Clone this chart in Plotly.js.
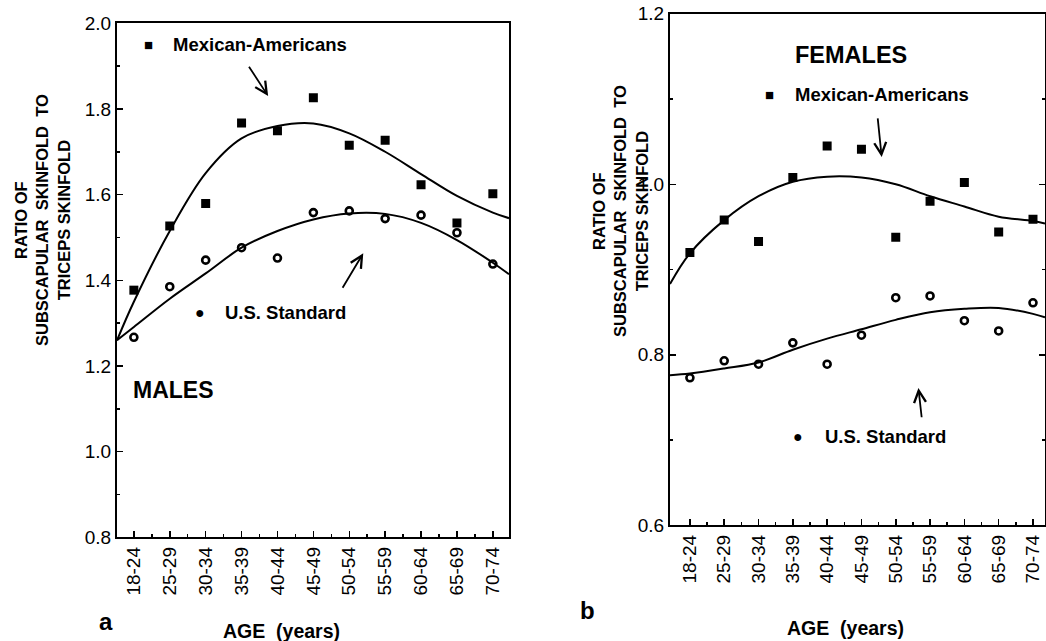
<!DOCTYPE html>
<html><head><meta charset="utf-8">
<script src="https://cdn.plot.ly/plotly-3.0.1.min.js"></script>
<style>html,body{margin:0;padding:0;background:#fff}</style>
</head><body>
<div id="chart" style="width:1046px;height:641px"></div>
<script>
// ---- data ----
const ageGroups = ['18-24','25-29','30-34','35-39','40-44','45-49','50-54','55-59','60-64','65-69','70-74'];

// panel a: males
const maleMexican = [1.377, 1.527, 1.579, 1.767, 1.749, 1.826, 1.715, 1.727, 1.623, 1.534, 1.602];
const maleUS      = [1.267, 1.385, 1.447, 1.476, 1.452, 1.558, 1.562, 1.544, 1.552, 1.511, 1.438];
// fitted curves at category positions
const maleCurveX         = [-0.47, 0, 1, 2, 3, 4, 5, 6, 7, 8, 9, 10, 10.45];
const maleMexicanCurve   = [1.26, 1.35, 1.515, 1.650, 1.731, 1.760, 1.766, 1.743, 1.700, 1.648, 1.597, 1.558, 1.545];
const maleUSCurve        = [1.26, 1.291, 1.357, 1.416, 1.476, 1.515, 1.542, 1.556, 1.555, 1.534, 1.494, 1.441, 1.414];

// panel b: females
const femaleMexican = [0.920, 0.958, 0.933, 1.008, 1.045, 1.041, 0.938, 0.980, 1.002, 0.944, 0.959];
const femaleUS      = [0.773, 0.793, 0.789, 0.814, 0.789, 0.823, 0.867, 0.869, 0.840, 0.828, 0.861];
const femaleCurveX       = [-0.58, 0, 1, 2, 3, 4, 5, 6, 7, 8, 9, 10, 10.35];
const femaleMexicanCurve = [0.883, 0.919, 0.958, 0.986, 1.003, 1.009, 1.008, 1.000, 0.986, 0.974, 0.962, 0.957, 0.954];
const femaleUSCurve      = [0.776, 0.778, 0.784, 0.791, 0.806, 0.819, 0.830, 0.841, 0.850, 0.854, 0.855, 0.848, 0.844];

// ---- drawing ----
const idx = ageGroups.map((_, i) => i);
const FONT = 'Liberation Sans, Arial, Helvetica, sans-serif';
const W = 1046, H = 641;
const px = v => v / W;
const py = v => (H - v) / H;

function sq(x, y, xa, ya) {
  return {x, y, xaxis: xa, yaxis: ya, type: 'scatter', mode: 'markers',
    marker: {symbol: 'square', size: 9, color: '#000'}, hoverinfo: 'skip', showlegend: false};
}
function dm(x, y, xa, ya) {
  return {x, y, xaxis: xa, yaxis: ya, type: 'scatter', mode: 'markers',
    marker: {symbol: 'circle-open', size: 7, color: '#000', line: {width: 2.6, color: '#000'}}, hoverinfo: 'skip', showlegend: false};
}
function crv(x, y, xa, ya) {
  return {x, y, xaxis: xa, yaxis: ya, type: 'scatter', mode: 'lines',
    line: {shape: 'spline', smoothing: 1, color: '#000', width: 2}, hoverinfo: 'skip', showlegend: false};
}

const traces = [
  crv(maleCurveX, maleMexicanCurve, 'x', 'y'),
  crv(maleCurveX, maleUSCurve, 'x', 'y'),
  sq(idx, maleMexican, 'x', 'y'),
  dm(idx, maleUS, 'x', 'y'),
  crv(femaleCurveX, femaleMexicanCurve, 'x2', 'y2'),
  crv(femaleCurveX, femaleUSCurve, 'x2', 'y2'),
  sq(idx, femaleMexican, 'x2', 'y2'),
  dm(idx, femaleUS, 'x2', 'y2')
];

const minorTickVals = idx.slice(0, -1).map(i => i + 0.5);

function xAxis(domain, range, anchor) {
  return {domain, range, anchor, tickmode: 'array', tickvals: idx, ticktext: ageGroups,
    tickangle: -90, ticks: 'inside', ticklen: 6, tickwidth: 1.5, tickcolor: '#000',
    showline: true, linewidth: 2, linecolor: '#000', mirror: true,
    showgrid: false, zeroline: false, fixedrange: true,
    tickfont: {family: FONT, size: 19, color: '#000'},
    minor: {tickmode: 'array', tickvals: minorTickVals, ticks: 'inside', ticklen: 3, tickwidth: 1.5, tickcolor: '#000', showgrid: false}};
}
function yAxis(domain, range, anchor, mirror) {
  return {domain, range, anchor, tickmode: 'linear', tick0: range[0], dtick: 0.2, tickformat: '.1f',
    ticks: 'inside', ticklen: 6, tickwidth: 1.5, tickcolor: '#000',
    showline: true, linewidth: 2, linecolor: '#000', mirror,
    showgrid: false, zeroline: false, fixedrange: true,
    tickfont: {family: FONT, size: 19, color: '#000'},
    minor: {dtick: 0.1, ticks: 'inside', ticklen: 3, tickwidth: 1.5, tickcolor: '#000', showgrid: false}};
}

function txt(text, x, y, xref, yref, size, xanchor, extra) {
  return Object.assign({text, x, y, xref, yref, showarrow: false, xanchor: xanchor || 'left', yanchor: 'middle',
    font: {family: FONT, size, color: '#000'}}, extra || {});
}
function arrow(x, y, ax, ay, xref, yref) {
  return {text: '', x, y, ax, ay, xref, yref, axref: xref, ayref: yref, showarrow: true,
    arrowhead: 5, arrowsize: 1.3, arrowwidth: 1.8, arrowcolor: '#000'};
}

const yTitle = '<b>RATIO OF</b><br><b>SUBSCAPULAR  SKINFOLD  TO</b><br><b>TRICEPS SKINFOLD</b>';

const annotations = [
  // panel a
  txt('■', 0.42, 1.951, 'x', 'y', 15, 'center'),
  txt('<b>Mexican-Americans</b>', 1.03, 1.951, 'x', 'y', 18.5),
  arrow(3.74, 1.830, 3.18, 1.902, 'x', 'y'),
  txt('●', 1.84, 1.324, 'x', 'y', 16, 'center'),
  txt('<b>U.S. Standard</b>', 2.48, 1.324, 'x', 'y', 18.5),
  arrow(6.39, 1.463, 5.79, 1.379, 'x', 'y'),
  txt('<b>MALES</b>', -0.08, 1.144, 'x', 'y', 23),
  txt('<b>a</b>', px(106), py(621), 'paper', 'paper', 24, 'center'),
  txt('<b>AGE  (years)</b>', px(281), py(631), 'paper', 'paper', 19.5, 'center'),
  txt(yTitle, px(42), py(220), 'paper', 'paper', 16.5, 'center', {textangle: -90, align: 'center'}),
  // panel b
  txt('<b>FEMALES</b>', 3.0, 1.152, 'x2', 'y2', 23.5),
  txt('■', 2.33, 1.105, 'x2', 'y2', 15, 'center'),
  txt('<b>Mexican-Americans</b>', 3.0, 1.105, 'x2', 'y2', 18.5),
  arrow(5.59, 1.032, 5.47, 1.079, 'x2', 'y2'),
  txt('●', 3.16, 0.704, 'x2', 'y2', 16, 'center'),
  txt('<b>U.S. Standard</b>', 3.87, 0.704, 'x2', 'y2', 18.5),
  arrow(6.66, 0.761, 6.76, 0.725, 'x2', 'y2'),
  txt('<b>b</b>', px(587), py(610), 'paper', 'paper', 24, 'center'),
  txt('<b>AGE  (years)</b>', px(845), py(628), 'paper', 'paper', 19.5, 'center'),
  txt(yTitle, px(620), py(211), 'paper', 'paper', 16.5, 'center', {textangle: -90, align: 'center'})
];

const layout = {
  width: W, height: H,
  margin: {l: 0, r: 0, t: 0, b: 0},
  paper_bgcolor: '#fff', plot_bgcolor: '#fff',
  showlegend: false,
  font: {family: FONT, color: '#000'},
  xaxis: xAxis([px(117), px(509)], [-0.47, 10.45], 'y'),
  yaxis: yAxis([py(537.4), py(23.2)], [0.8, 2.0], 'x', true),
  xaxis2: xAxis([px(670), px(1045)], [-0.58, 10.35], 'y2'),
  yaxis2: yAxis([py(525.3), py(13.8)], [0.6, 1.2], 'x2', 'allticks'),
  annotations
};

Plotly.newPlot('chart', traces, layout, {staticPlot: true, displayModeBar: false});
</script>
</body></html>
